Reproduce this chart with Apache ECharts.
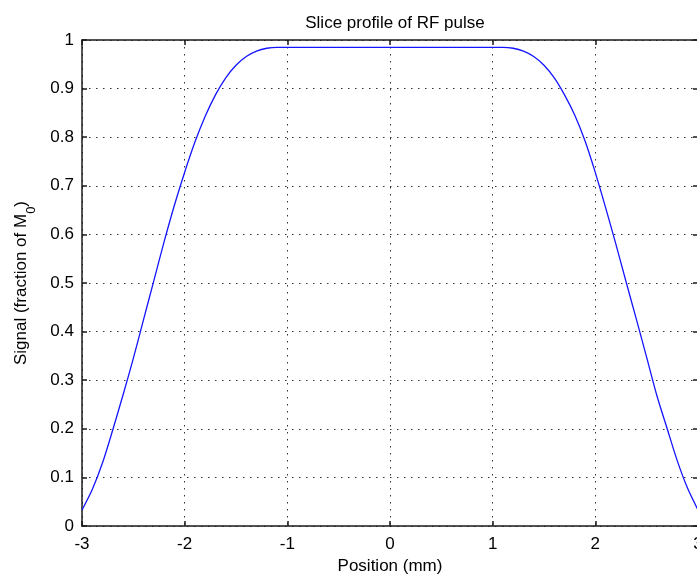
<!DOCTYPE html>
<html>
<head>
<meta charset="utf-8">
<script src="https://cdn.jsdelivr.net/npm/echarts@6/dist/echarts.min.js"></script>
<style>html,body{margin:0;padding:0;background:#fff;}#c{width:697px;height:578px;}</style>
</head>
<body>
<div id="c"></div>
<script>
const titleText = 'Slice profile of RF pulse';
const xName = 'Position (mm)';
const xTicks = [-3, -2, -1, 0, 1, 2, 3];
const yTicks = [0, 0.1, 0.2, 0.3, 0.4, 0.5, 0.6, 0.7, 0.8, 0.9, 1];
const position = [-3.0, -2.9, -2.8, -2.7, -2.6, -2.5, -2.4, -2.3, -2.2, -2.1, -2.0, -1.9, -1.8, -1.7, -1.6, -1.5, -1.4, -1.3, -1.2, -1.1, -1.0, -0.5, 0, 0.5, 1.0, 1.1, 1.2, 1.3, 1.4, 1.5, 1.6, 1.7, 1.8, 1.9, 2.0, 2.1, 2.2, 2.3, 2.4, 2.5, 2.6, 2.7, 2.8, 2.9, 3.0];
const signal = [0.033, 0.075, 0.130, 0.198, 0.270, 0.345, 0.425, 0.505, 0.585, 0.660, 0.728, 0.790, 0.843, 0.887, 0.922, 0.948, 0.966, 0.977, 0.983, 0.985, 0.985, 0.985, 0.985, 0.985, 0.985, 0.985, 0.983, 0.977, 0.966, 0.948, 0.922, 0.887, 0.845, 0.792, 0.727, 0.655, 0.580, 0.502, 0.425, 0.347, 0.268, 0.200, 0.133, 0.077, 0.033];

const FONT = 'Liberation Sans';
const FS = 17;
const axisLineStyle = {color: '#1a1a1a', width: 1.5};
const gridLine = {show: true, lineStyle: {color: '#333', width: 1, type: [1.5, 5.5]}};

const chart = echarts.init(document.getElementById('c'), null, {renderer: 'canvas'});
chart.setOption({
  animation: false,
  backgroundColor: '#fff',
  textStyle: {fontFamily: FONT},
  title: {
    text: titleText, left: 390, top: 10, textAlign: 'center',
    textStyle: {fontFamily: FONT, fontSize: FS, fontWeight: 'normal', color: '#000'}
  },
  grid: {left: 82, top: 40, width: 616, height: 486, containLabel: false, outerBoundsMode: 'none'},
  xAxis: [{
    type: 'value', min: xTicks[0], max: xTicks[xTicks.length - 1], interval: 1,
    name: xName, nameLocation: 'middle', nameGap: 32,
    nameTextStyle: {fontFamily: FONT, fontSize: FS, color: '#000'},
    axisLine: {show: true, onZero: false, lineStyle: axisLineStyle},
    axisTick: {show: true, inside: true, length: 5, lineStyle: axisLineStyle},
    axisLabel: {fontFamily: FONT, fontSize: FS, color: '#000', margin: 10, showMinLabel: true, showMaxLabel: true, hideOverlap: false, formatter: v => String(v)},
    splitLine: gridLine
  }, {
    type: 'value', position: 'top', min: xTicks[0], max: xTicks[xTicks.length - 1], interval: 1,
    axisLine: {show: true, onZero: false, lineStyle: axisLineStyle},
    axisTick: {show: true, inside: true, length: 5, lineStyle: axisLineStyle},
    axisLabel: {show: false}, splitLine: {show: false}
  }],
  yAxis: [{
    type: 'value', min: yTicks[0], max: yTicks[yTicks.length - 1], interval: 0.1,
    name: 'Signal (fraction of M{sub|0})', nameLocation: 'middle', nameGap: 52, nameRotate: 90,
    nameTextStyle: {fontFamily: FONT, fontSize: FS, color: '#000',
      rich: {sub: {fontFamily: FONT, fontSize: 13, color: '#000', verticalAlign: 'bottom', padding: [0, 0, -8, 0]}}},
    axisLine: {show: true, onZero: false, lineStyle: axisLineStyle},
    axisTick: {show: true, inside: true, length: 5, lineStyle: axisLineStyle},
    axisLabel: {fontFamily: FONT, fontSize: FS, color: '#000', margin: 8,
      formatter: v => (Math.abs(v) < 1e-9 ? '0' : Math.abs(v - 1) < 1e-9 ? '1' : v.toFixed(1))},
    splitLine: gridLine
  }, {
    type: 'value', position: 'right', min: yTicks[0], max: yTicks[yTicks.length - 1], interval: 0.1,
    axisLine: {show: true, onZero: false, lineStyle: axisLineStyle},
    axisTick: {show: true, inside: true, length: 5, lineStyle: axisLineStyle},
    axisLabel: {show: false}, splitLine: {show: false}
  }],
  series: [{
    type: 'line', xAxisIndex: 0, yAxisIndex: 0,
    data: position.map((p, i) => [p, signal[i]]),
    showSymbol: false, smooth: 0.3,
    lineStyle: {color: '#1414ff', width: 1.3}
  }]
});
</script>
</body>
</html>
